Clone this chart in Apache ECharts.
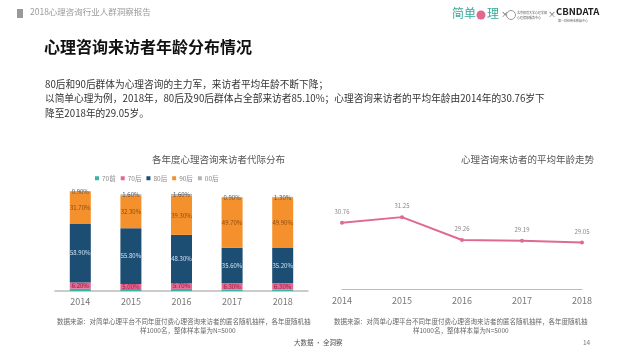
<!DOCTYPE html>
<html><head><meta charset="utf-8">
<script src="https://cdn.jsdelivr.net/npm/echarts@6/dist/echarts.min.js"></script>
<style>html,body{margin:0;padding:0;background:#fff}#c{width:640px;height:360px}</style>
</head><body><div id="c"></div>
<script>
const years = ['2014','2015','2016','2017','2018'];
const gen70q = [2.3, 2.0, 2.1, 1.5, 1.5];
const gen70h = [6.2, 5.0, 5.7, 6.3, 6.3];
const gen80 = [58.9, 55.8, 48.3, 35.6, 35.2];
const gen90 = [31.7, 32.3, 39.3, 49.7, 49.9];
const gen00 = [0.9, 1.6, 1.6, 0.9, 1.3];
const avgAge = [30.76, 31.25, 29.26, 29.19, 29.05];
const legendNames = ['70前','70后','80后','90后','00后'];

const F = '"Noto Sans CJK SC", "Noto Sans", sans-serif';
const colors = ['#36B5A6','#E4678F','#1C4D73','#F5912C','#B5B5B5'];
const labelColors = [null,'#9b2144','#cfe3f5','#8a4a10','#555'];
const datas = [gen70q, gen70h, gen80, gen90, gen00];

const barSeries = legendNames.map((n,i)=>({
  name:n, type:'bar', stack:'s', xAxisIndex:0, yAxisIndex:0,
  barWidth:21, data:datas[i], itemStyle:{color:colors[i]},
  label:{show:i>0, position:'inside', fontSize:6, fontFamily:F, color:labelColors[i],
    formatter:p=>p.value.toFixed(2)+'%'}
}));

const chart = echarts.init(document.getElementById('c'));
chart.setOption({
  animation:false,
  textStyle:{fontFamily:F},
  legend:{data:legendNames, top:170, left:90, itemWidth:4, itemHeight:4, itemGap:5,
    icon:'rect', textStyle:{fontSize:6.5, color:'#888', fontFamily:F, padding:[0,0,0,-2]}},
  grid:[
    {left:55, width:253, top:191, height:100},
    {left:342, width:240, top:174, height:115}
  ],
  xAxis:[
    {gridIndex:0, type:'category', data:years, axisTick:{show:false},
      axisLine:{lineStyle:{color:'#bbb', width:1.5}},
      axisLabel:{fontSize:9, color:'#777', margin:6, fontFamily:F}},
    {gridIndex:1, type:'category', data:years, boundaryGap:false, axisTick:{show:false},
      axisLine:{lineStyle:{color:'#bbb', width:1}},
      axisLabel:{fontSize:9, color:'#777', margin:7, fontFamily:F}}
  ],
  yAxis:[
    {gridIndex:0, type:'value', min:0, max:100, show:false, splitLine:{show:false}},
    {gridIndex:1, type:'value', min:25, max:35, show:false, splitLine:{show:false}}
  ],
  series: barSeries.concat([{
    name:'平均年龄', type:'line', xAxisIndex:1, yAxisIndex:1, data:avgAge,
    lineStyle:{color:'#E06A8E', width:2}, itemStyle:{color:'#E06A8E'},
    symbol:'circle', symbolSize:4,
    label:{show:true, position:'top', fontSize:6, color:'#888', distance:6,
      formatter:p=>p.value.toFixed(2)}
  }]),
  graphic:[
    {type:'rect', shape:{x:17,y:9,width:6,height:9}, style:{fill:'#999'}},
    {type:'text', left:30, top:8, style:{text:'2018心理咨询行业人群洞察报告', font:'8.5px '+F, fill:'#9a9a9a'}},
    {type:'text', left:452, top:7, style:{text:'简单', font:'12px '+F, fill:'#3aa89a'}},
    {type:'circle', shape:{cx:481, cy:15, r:4.5}, style:{fill:'#E4678F'}},
    {type:'text', left:487, top:7, style:{text:'理', font:'12px '+F, fill:'#3aa89a'}},
    {type:'text', left:501, top:10, style:{text:'×', font:'8px '+F, fill:'#555'}},
    {type:'circle', shape:{cx:511, cy:15, r:4.5}, style:{fill:'#fff', stroke:'#999', lineWidth:1}},
    {type:'text', left:517, top:10, style:{text:'北京师范大学心理学部\n心理健康服务中心', font:'3px '+F, fill:'#555', lineHeight:5}},
    {type:'text', left:548, top:10, style:{text:'×', font:'8px '+F, fill:'#555'}},
    {type:'text', left:556, top:7, style:{text:'CBNDATA', font:'bold 9.5px '+F, fill:'#222'}},
    {type:'text', left:558, top:19, style:{text:'第一财经商业数据中心', font:'3px '+F, fill:'#666'}},
    {type:'text', left:44, top:39, style:{text:'心理咨询来访者年龄分布情况', font:'bold 16px '+F, fill:'#111'}},
    {type:'text', left:45, top:77, style:{text:'80后和90后群体为心理咨询的主力军，来访者平均年龄不断下降；\n以简单心理为例，2018年，80后及90后群体占全部来访者85.10%；心理咨询来访者的平均年龄由2014年的30.76岁下\n降至2018年的29.05岁。', font:'9.7px '+F, fill:'#333', lineHeight:14.5}},
    {type:'text', left:152, top:155, style:{text:'各年度心理咨询来访者代际分布', font:'9.5px '+F, fill:'#555', textAlign:'center'}},
    {type:'text', left:461, top:155, style:{text:'心理咨询来访者的平均年龄走势', font:'9.5px '+F, fill:'#555', textAlign:'center'}},
    {type:'text', left:57, top:318, style:{text:'数据来源：对简单心理平台不同年度付费心理咨询来访者的匿名随机抽样，各年度随机抽', font:'6.5px '+F, fill:'#666'}},
    {type:'text', left:140, top:327, style:{text:'样1000名，整体样本量为N=5000', font:'6.5px '+F, fill:'#666'}},
    {type:'text', left:334, top:318, style:{text:'数据来源：对简单心理平台不同年度付费心理咨询来访者的匿名随机抽样，各年度随机抽', font:'6.5px '+F, fill:'#666'}},
    {type:'text', left:413, top:327, style:{text:'样1000名，整体样本量为N=5000', font:'6.5px '+F, fill:'#666'}},
    {type:'text', left:294, top:339, style:{text:'大数据 · 全洞察', font:'6.5px '+F, fill:'#555'}},
    {type:'text', left:583, top:339, style:{text:'14', font:'6.5px '+F, fill:'#777'}}
  ]
});
</script></body></html>
